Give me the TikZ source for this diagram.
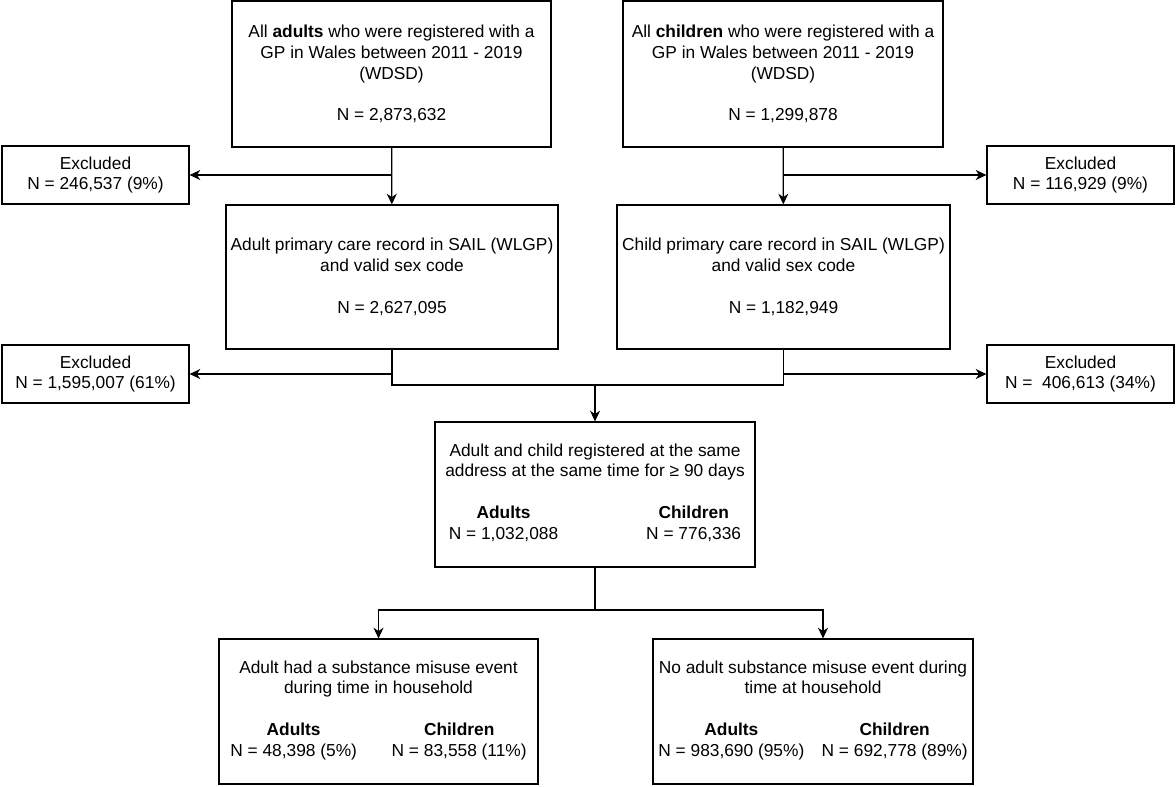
\documentclass[tikz,border=0pt]{standalone}
\usepackage{fontspec}
\setmainfont{Liberation Sans}
\usetikzlibrary{arrows.meta}

\begin{document}
\begin{tikzpicture}[x=0.75pt, y=-0.75pt, line width=0.9pt,
	box/.style={draw, align=center, inner sep=0pt, font=\fontsize{13}{15.6}\selectfont},
	excl/.style={box, minimum width=140.25pt, minimum height=43.5pt},
	arr/.style={-{Stealth[length=8pt, width=7.5pt, inset=2.5pt]}}]
		\useasboundingbox (0,0) rectangle (1176,786);
		\node[box, minimum width=239.25pt, minimum height=109.5pt] (tl) at (391.5,74) {All \textbf{adults} who were registered with a\\GP in Wales between 2011 - 2019\\(WDSD)\\[15.6pt]N = 2,873,632};
		\node[box, minimum width=240pt, minimum height=109.5pt] (tr) at (783,74) {All \textbf{children} who were registered with a\\GP in Wales between 2011 - 2019\\(WDSD)\\[15.6pt]N = 1,299,878};
		\node[excl] (ex1) at (95.5,175) {Excluded\\N = 246,537 (9\%)};
		\node[excl] (ex2) at (1080.5,175) {Excluded\\N = 116,929 (9\%)};
		\node[box, minimum width=249pt, minimum height=108pt] (ml) at (392,277) {Adult primary care record in SAIL (WLGP)\\and valid sex code\\[15.6pt]N = 2,627,095};
		\node[box, minimum width=249.75pt, minimum height=108pt] (mr) at (783.5,277) {Child primary care record in SAIL (WLGP)\\and valid sex code\\[15.6pt]N = 1,182,949};
		\node[excl] (ex3) at (95.5,374) {Excluded\\N = 1,595,007 (61\%)};
		\node[excl] (ex4) at (1080.5,374) {Excluded\\N =\ \ 406,613 (34\%)};
		\node[box, minimum width=240pt, minimum height=108.75pt] (cm) at (595,494.5) {Adult and child registered at the same\\address at the same time for ≥ 90 days\\[15.6pt]\begin{tabular}[t]{@{}c@{\hspace{66pt}}c@{}}\textbf{Adults}&\textbf{Children}\\N = 1,032,088&N = 776,336\end{tabular}};
		\node[box, minimum width=239.25pt, minimum height=108.75pt] (bl) at (378.5,711.5) {Adult had a substance misuse event\\during time in household\\[15.6pt]\begin{tabular}[t]{@{}c@{\hspace{26pt}}c@{}}\textbf{Adults}&\textbf{Children}\\N = 48,398 (5\%)&N = 83,558 (11\%)\end{tabular}};
		\node[box, minimum width=240pt, minimum height=108.75pt] (br) at (813,711.5) {No adult substance misuse event during\\time at household\\[15.6pt]\begin{tabular}[t]{@{}c@{\hspace{13pt}}c@{}}\textbf{Adults}&\textbf{Children}\\N = 983,690 (95\%)&N = 692,778 (89\%)\end{tabular}};
		\coordinate (j) at (595,385);
		\coordinate (k) at (595,610);
		\draw[arr] (tl) -- (ml);
		\draw[arr] (tl.south |- ex1) -- (ex1);
		\draw[arr] (tr) -- (mr);
		\draw[arr] (tr.south |- ex2) -- (ex2);
		\draw (ml) |- (j) -| (mr);
		\draw[arr] (j) -- (cm);
		\draw[arr] (ml.south |- ex3) -- (ex3);
		\draw[arr] (mr.south |- ex4) -- (ex4);
		\draw (cm) -- (k);
		\draw[arr] (k) -| (bl);
		\draw[arr] (k) -| ([xshift=7.5pt]br.north);
\end{tikzpicture}
\end{document}
